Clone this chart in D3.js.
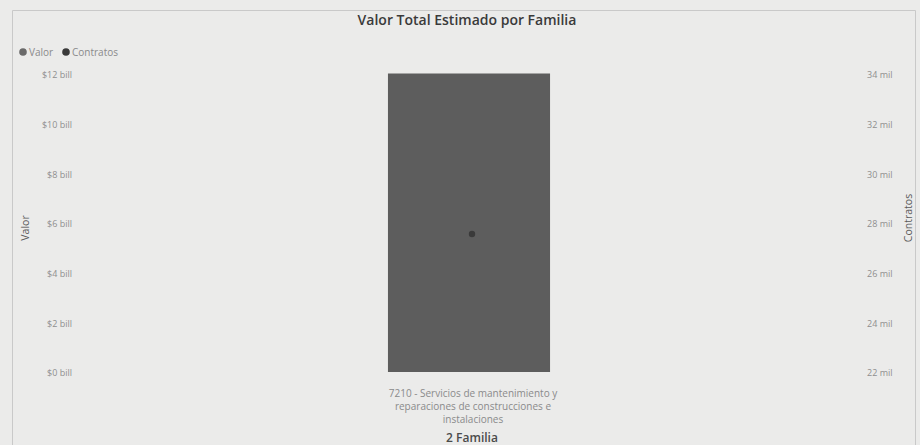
<!DOCTYPE html>
<html><head><meta charset="utf-8">
<script src="https://cdn.jsdelivr.net/npm/d3@7"></script>
<style>
html,body{margin:0;padding:0;background:#ebebea;}
svg{display:block;font-family:"Open Sans",sans-serif;}
</style></head>
<body><svg id="c" width="920" height="445"></svg>
<script>
const categories = ["7210 - Servicios de mantenimiento y reparaciones de construcciones e instalaciones"];
const categoryLines = [["7210 - Servicios de mantenimiento y","reparaciones de construcciones e","instalaciones"]];
const valorBill = [12.02];          // $ billones
const contratosMil = [27.56];       // miles de contratos
const leftTicks = [0,2,4,6,8,10,12];
const rightTicks = [22,24,26,28,30,32,34];

(function(){
const svg = d3.select("#c");
const W = 920, H = 445;
svg.append("rect").attr("width",W).attr("height",H).attr("fill","#ebebea");
svg.append("path").attr("d","M12.5,445 V10.5 H915.5 V445").attr("fill","none").attr("stroke","#c9c9c9");

const plotTop = 74, plotBottom = 372;
const x = d3.scaleBand().domain(categories).range([80, 858]).paddingInner(0).paddingOuter(1.9);
const yL = d3.scaleLinear().domain([0,12]).range([plotBottom, plotTop]);
const yR = d3.scaleLinear().domain([22,34]).range([plotBottom, plotTop]);

svg.append("text").attr("x",467).attr("y",25).attr("text-anchor","middle")
  .attr("font-size",14).attr("font-weight",600).attr("fill","#3a3a3a").text("Valor Total Estimado por Familia");

const lg = svg.append("g").attr("font-size",10).attr("fill","#8a8a8a");
lg.append("circle").attr("cx",23).attr("cy",52).attr("r",3.8).attr("fill","#6a6a6a");
lg.append("text").attr("x",29).attr("y",55.5).text("Valor");
lg.append("circle").attr("cx",66).attr("cy",52).attr("r",3.8).attr("fill","#3a3a3a");
lg.append("text").attr("x",72).attr("y",55.5).text("Contratos");

const axL = d3.axisLeft(yL).tickValues(leftTicks).tickSize(0).tickPadding(0).tickFormat(d=>"$"+d+" bill");
const gL = svg.append("g").attr("transform","translate(72,1)").call(axL);
gL.select(".domain").remove();
gL.selectAll("text").attr("font-size",9).attr("fill","#8f8f8f").attr("font-family","Open Sans");

const axR = d3.axisRight(yR).tickValues(rightTicks).tickSize(0).tickPadding(0).tickFormat(d=>d+" mil");
const gR = svg.append("g").attr("transform","translate(867,1)").call(axR);
gR.select(".domain").remove();
gR.selectAll("text").attr("font-size",9).attr("fill","#8f8f8f").attr("font-family","Open Sans");

svg.append("text").attr("transform","translate(29,228) rotate(-90)").attr("text-anchor","middle")
  .attr("font-size",10.5).attr("fill","#5a5a5a").text("Valor");
svg.append("text").attr("transform","translate(912,218) rotate(-90)").attr("text-anchor","middle")
  .attr("font-size",10.5).attr("fill","#5a5a5a").text("Contratos");

svg.selectAll("rect.bar").data(categories).enter().append("rect").attr("class","bar")
  .attr("x",d=>x(d)).attr("width",x.bandwidth())
  .attr("y",(d,i)=>yL(valorBill[i])).attr("height",(d,i)=>yL(0)-yL(valorBill[i]))
  .attr("fill","#5d5d5d");

svg.selectAll("circle.pt").data(categories).enter().append("circle").attr("class","pt")
  .attr("cx",d=>x(d)+x.bandwidth()/2+3).attr("cy",(d,i)=>yR(contratosMil[i])).attr("r",3.2)
  .attr("fill","#3a3a3a");

categories.forEach((c,i)=>{
  const t = svg.append("text").attr("text-anchor","middle").attr("font-size",10).attr("fill","#8a8a8a");
  categoryLines[i].forEach((ln,j)=>{
    t.append("tspan").attr("x",x(c)+x.bandwidth()/2+4).attr("y",397+j*13).text(ln);
  });
});
svg.append("text").attr("x",472).attr("y",442).attr("text-anchor","middle")
  .attr("font-size",12).attr("font-weight",600).attr("fill","#4a4a4a").text("2 Familia");
})();
</script></body></html>
